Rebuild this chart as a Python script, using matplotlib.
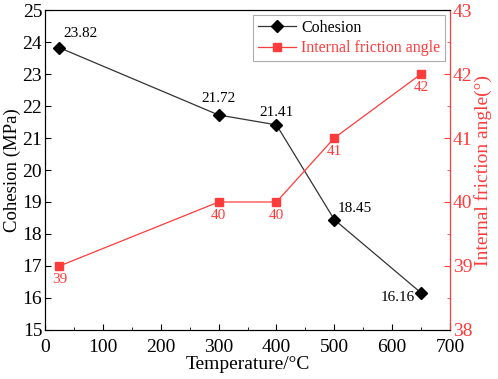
import matplotlib
matplotlib.use('Agg')
import matplotlib.pyplot as plt
from matplotlib.ticker import MultipleLocator

plt.rcParams['font.family'] = ['Liberation Serif', 'DejaVu Serif']
plt.rcParams['mathtext.fontset'] = 'stix'

temp = [25, 300, 400, 500, 650]
cohesion = [23.82, 21.72, 21.41, 18.45, 16.16]
friction = [39, 40, 40, 41, 42]
red = '#ff3b3b'

fig = plt.figure(figsize=(4.98, 3.79), dpi=100)
ax = fig.add_axes([0.0904, 0.1293, 0.8132, 0.8443])
ax2 = ax.twinx()

l1, = ax.plot(temp, cohesion, color='#333333', lw=0.9, marker='D', ms=6,
              mfc='black', mec='black', label='Cohesion')
l2, = ax2.plot(temp, friction, color=red, lw=0.9, marker='s', ms=6,
               mfc=red, mec=red, label='Internal friction angle')

# labels for cohesion
offs = [(15, 10), (0, 12), (0, 9), (15, 8), (-17, -3)]
for x, y, o in zip(temp, cohesion, offs):
    ax.annotate('%.2f' % y, (x, y), xytext=o, textcoords='offset points',
                ha='center', va='center', fontsize=11)
for x, y in zip(temp, friction):
    ax2.annotate('%d' % y, (x, y), xytext=(0, -9.5), textcoords='offset points',
                 ha='center', va='center', fontsize=11, color=red)

ax.set_xlim(0, 700)
ax.set_ylim(15, 25)
ax2.set_ylim(38, 43)
ax.xaxis.set_major_locator(MultipleLocator(100))
ax.xaxis.set_minor_locator(MultipleLocator(50))
ax.yaxis.set_major_locator(MultipleLocator(1))
ax2.yaxis.set_major_locator(MultipleLocator(1))
ax2.yaxis.set_minor_locator(MultipleLocator(0.5))

ax.tick_params(axis='both', which='both', direction='in', labelsize=14)
ax.tick_params(which='major', length=4)
ax.tick_params(which='minor', length=2.5)
ax.tick_params(axis='x', pad=6.5)
ax.tick_params(axis='y', pad=2)
ax2.tick_params(axis='y', which='both', direction='in', labelsize=14,
                colors=red, pad=2)
ax2.tick_params(which='major', length=4)
ax2.tick_params(which='minor', length=2.5)
ax2.spines['right'].set_color(red)

ax.set_xlabel('Temperature/°C', fontsize=14, labelpad=0)
ax.set_ylabel('Cohesion (MPa)', fontsize=13.5, labelpad=1)
ax2.set_ylabel('Internal friction angle(°)', fontsize=14, color=red, labelpad=1)

leg = ax.legend(handles=[l1, l2], loc='upper right', fontsize=11.5,
                frameon=True, fancybox=False, edgecolor='#999999',
                borderpad=0.3, handlelength=2.4, handletextpad=0.3,
                labelspacing=0.3, borderaxespad=0,
                bbox_to_anchor=(0.988, 0.985))
leg.get_frame().set_linewidth(0.8)
leg.get_texts()[1].set_color(red)

fig.savefig('out.png', dpi=100)
